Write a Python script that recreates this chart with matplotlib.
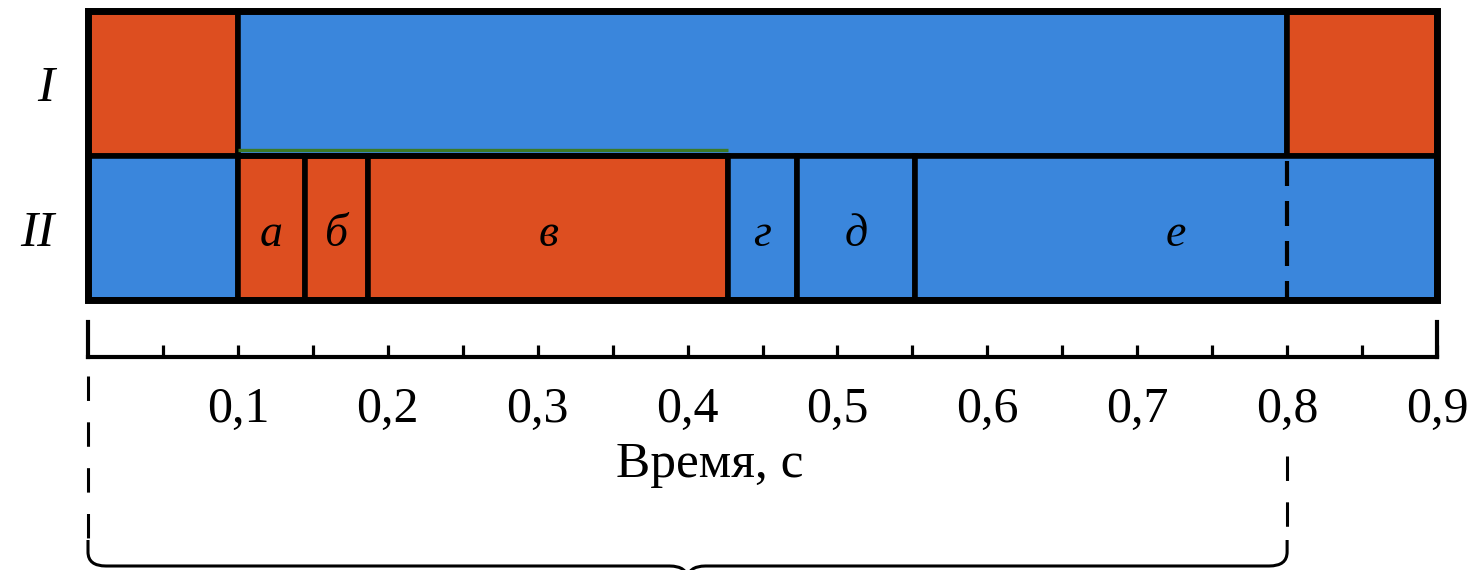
import matplotlib
matplotlib.use("Agg")
import matplotlib.pyplot as plt
from matplotlib.path import Path
from matplotlib.patches import PathPatch, Rectangle
from matplotlib.ticker import FixedLocator

# ---------------- data ----------------
row_labels = ["I", "II"]
# Row I (atria)
row1_starts = [0.0, 0.1, 0.8]
row1_ends = [0.1, 0.8, 0.9]
row1_phase = ["sys", "dia", "sys"]
# Row II (ventricles)
row2_names = ["", "а", "б", "в", "г", "д", "е"]
row2_starts = [0.0, 0.1, 0.145, 0.187, 0.427, 0.473, 0.552]
row2_ends = [0.1, 0.145, 0.187, 0.427, 0.473, 0.552, 0.9]
row2_phase = ["dia", "sys", "sys", "sys", "dia", "dia", "dia"]
cycle_start = 0.0
cycle_end = 0.8
major_ticks = [0.1, 0.2, 0.3, 0.4, 0.5, 0.6, 0.7, 0.8, 0.9]
major_labels = ["0,1", "0,2", "0,3", "0,4", "0,5", "0,6", "0,7", "0,8", "0,9"]
minor_ticks = [0.05, 0.15, 0.25, 0.35, 0.45, 0.55, 0.65, 0.75, 0.85]
xlabel = "Время, с"
t_min, t_max = 0.0, 0.9

# ---------------- style ----------------
RED = "#DD4E20"
BLUE = "#3A86DC"
GREEN = "#3C7A25"
colors = {"sys": RED, "dia": BLUE}
SERIF = ["Liberation Serif", "DejaVu Serif"]

W, H = 1474, 570
L, R = 88, 1437
fig = plt.figure(figsize=(W / 100, H / 100), dpi=100)


def fx(px):
    return px / W


def fy(py):
    return 1 - py / H


# ---------------- bars ----------------
top, bot = 11, 300
ax = fig.add_axes([fx(L), fy(bot), fx(R) - fx(L), (bot - top) / H])
ax.set_xlim(t_min, t_max)
ax.set_ylim(2, 0)
lw = 4.0
for s, e, p in zip(row1_starts, row1_ends, row1_phase):
    ax.barh(0.5, e - s, left=s, height=1, color=colors[p], edgecolor="black",
            linewidth=lw, clip_on=False, zorder=2)
for s, e, p, n in zip(row2_starts, row2_ends, row2_phase, row2_names):
    ax.barh(1.5, e - s, left=s, height=1, color=colors[p], edgecolor="black",
            linewidth=lw, clip_on=False, zorder=2)
    if n:
        ax.text((s + e) / 2, 1.55, n, ha="center", va="center",
                fontsize=33, style="italic", family=SERIF, zorder=5)
# dashed end-of-cycle line in row II
ax.plot([cycle_end, cycle_end], [1.04, 2.0], color="black", lw=3.0,
        linestyle=(0, (6, 3.6)), zorder=4, clip_on=False)
# green stripe above ventricular systole
sys_idx = [i for i, p in enumerate(row2_phase) if p == "sys"]
ax.plot([row2_starts[sys_idx[0]], row2_ends[sys_idx[-1]]], [0.962, 0.962],
        color=GREEN, lw=2.4, zorder=3, solid_capstyle="butt")
ax.plot([row2_starts[sys_idx[0]], row2_ends[sys_idx[-1]]], [1.0, 1.0],
        color="black", lw=lw, zorder=3.5, solid_capstyle="butt")
# outer frame
ax.add_patch(Rectangle((t_min, 0), t_max - t_min, 2, fill=False,
                       edgecolor="black", linewidth=5.0, clip_on=False, zorder=6))
for sp in ax.spines.values():
    sp.set_visible(False)
ax.set_xticks([])
ax.set_yticks([0.5, 1.5])
ax.set_yticklabels(row_labels, fontsize=37, style="italic", family=SERIF)
ax.tick_params(axis="y", length=0, pad=24)

# ---------------- time axis ----------------
axis_y, axis_top = 357, 322
axt = fig.add_axes([fx(L), fy(axis_y), fx(R) - fx(L), (axis_y - axis_top) / H])
axt.set_xlim(t_min, t_max)
axt.set_ylim(0, 1)
axt.patch.set_visible(False)
axt.spines["top"].set_visible(False)
for k in ("bottom", "left", "right"):
    axt.spines[k].set_linewidth(3.0)
    axt.spines[k].set_capstyle("projecting")
axt.set_yticks([])
axt.xaxis.set_major_locator(FixedLocator(major_ticks))
axt.xaxis.set_minor_locator(FixedLocator(minor_ticks))
axt.set_xticklabels(major_labels, fontsize=36, family=SERIF)
axt.tick_params(axis="x", which="both", direction="in", length=9, width=2.3, pad=21)
axt.set_xlabel(xlabel, fontsize=37, family=SERIF)
axt.xaxis.set_label_coords((710 - L) / (R - L), -2.42)
axt.xaxis.label.set_va("top")

# ---------------- brace ----------------
axo = fig.add_axes([fx(L), 0, fx(R) - fx(L), 1])
axo.set_xlim(t_min, t_max)
axo.set_ylim(H, 0)
axo.axis("off")
blw = 2.2
axo.plot([cycle_start, cycle_start], [376, 540], color="black", lw=blw,
         linestyle=(0, (8, 7)), clip_on=False)
axo.plot([cycle_end, cycle_end], [456, 540], color="black", lw=blw,
         linestyle=(0, (8, 7)), clip_on=False)
mid = (cycle_start + cycle_end) / 2
yb = 566
rx = 0.012
for x0, sgn in ((cycle_start, 1), (cycle_end, -1)):
    verts = [(x0, 540), (x0, 552), (x0, yb), (x0 + sgn * rx, yb),
             (mid - sgn * rx, yb), (mid, yb), (mid, yb + 14)]
    codes = [Path.MOVETO, Path.LINETO, Path.CURVE3, Path.CURVE3,
             Path.LINETO, Path.CURVE3, Path.CURVE3]
    axo.add_patch(PathPatch(Path(verts, codes), fill=False, edgecolor="black",
                            lw=blw, clip_on=False))

fig.savefig("out.png", dpi=100)
